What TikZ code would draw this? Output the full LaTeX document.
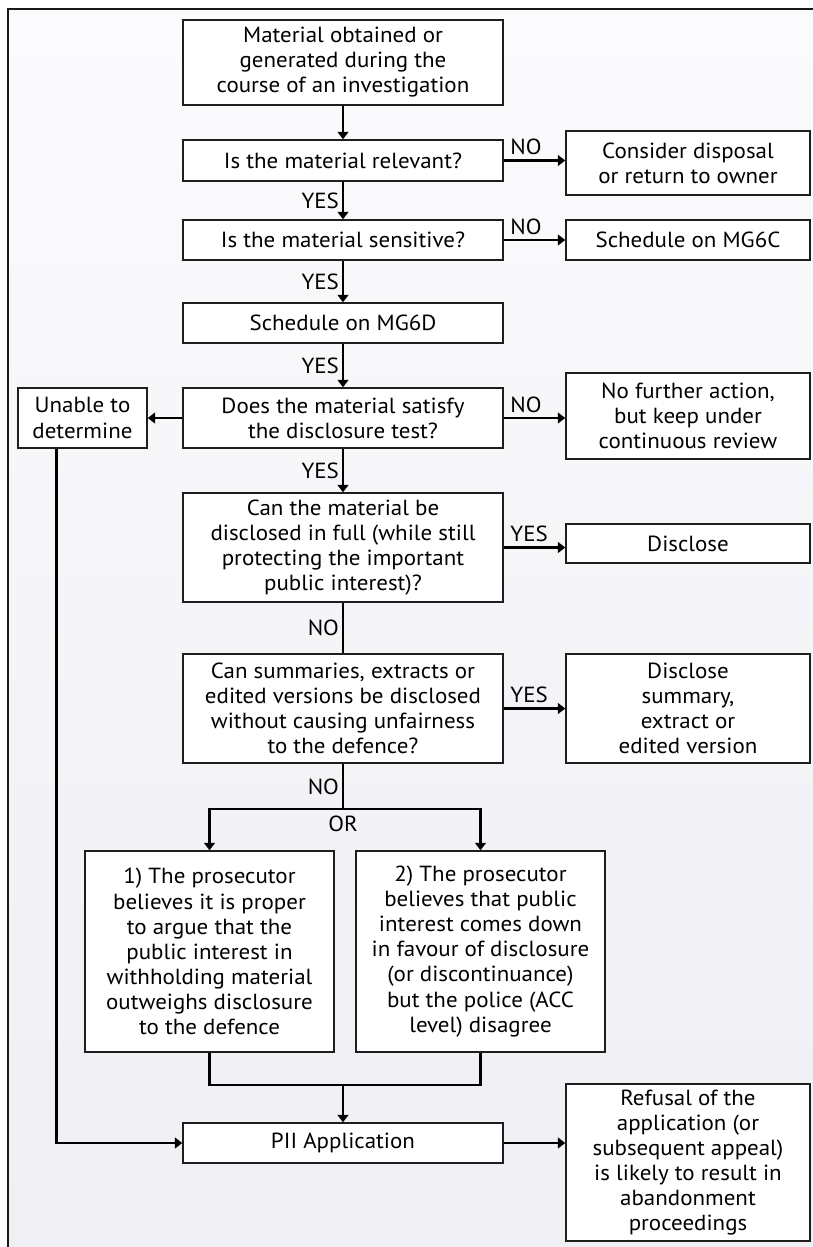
\documentclass[tikz,border=0pt]{standalone}
\usepackage{fontspec}
\setmainfont{PT Sans}[FakeStretch=1.05]
\usetikzlibrary{arrows.meta,calc}
\definecolor{bgtop}{HTML}{FBFBFD}
\definecolor{bgbot}{HTML}{EFEFF4}
\definecolor{edge}{HTML}{1E1E1E}
\tikzset{
  box/.style={draw=edge, line width=1.1pt, fill=white, align=center, inner sep=1pt,
    font=\fontsize{16.4}{18.8}\selectfont},
  mainbox/.style={box, minimum width=240pt},
  sidebox/.style={box, minimum width=183pt},
  conn/.style={line width=2.1pt, black},
  arr/.style={conn, -{Triangle[width=8pt,length=5.5pt]}},
  lbl/.style={font=\fontsize{16.4}{19}\selectfont, inner sep=2pt},
}
\begin{document}
\begin{tikzpicture}[x=0.75pt,y=-0.75pt]
\useasboundingbox (0,0) rectangle (813,1247);
\fill[white] (0,0) rectangle (813,1247);
\shade[top color=bgtop, bottom color=bgbot] (8,9) rectangle (813,1247);
\draw[line width=1.5pt, black!90] (8,1247) -- (8,9) -- (813,9);

\node[mainbox, minimum height=63.75pt] (b1) at (343,62.5) {Material obtained or\\generated during the\\course of an investigation};
\node[mainbox, minimum height=30.75pt] (b2) at (343,160.5) {Is the material relevant?};
\node[sidebox, minimum height=48pt] (c1) at (688,163) {Consider disposal\\or return to owner};
\node[mainbox, minimum height=30pt] (b3) at (343,240) {Is the material sensitive?};
\node[sidebox, minimum height=30pt] (c2) at (688,240) {Schedule on MG6C};
\node[mainbox, minimum height=30pt] (b4) at (343,323) {Schedule on MG6D};
\node[mainbox, minimum height=45pt] (b5) at (343,418) {Does the material satisfy\\the disclosure test?};
\node[box, minimum width=96.75pt, minimum height=45pt] (u) at (82.5,418) {Unable to\\determine};
\node[sidebox, minimum height=64.5pt] (c3) at (688,416) {No further action,\\but keep under\\continuous review};
\node[mainbox, minimum height=81.75pt] (b6) at (343,547.5) {Can the material be\\disclosed in full (while still\\protecting the important\\public interest)?};
\node[sidebox, minimum height=29.25pt] (c4) at (688,543.5) {Disclose};
\node[mainbox, minimum height=81.75pt] (b7) at (343,708.5) {Can summaries, extracts or\\edited versions be disclosed\\without causing unfairness\\to the defence?};
\node[sidebox, minimum height=81.75pt] (c5) at (688,708.5) {Disclose\\summary,\\extract or\\edited version};
\node[box, minimum width=186.75pt, minimum height=150.75pt] (b8) at (209.5,951.5) {1) The prosecutor\\believes it is proper\\to argue that the\\public interest in\\withholding material\\outweighs disclosure\\to the defence};
\node[box, minimum width=186.75pt, minimum height=150.75pt] (b9) at (480.5,951.5) {2) The prosecutor\\believes that public\\interest comes down\\in favour of disclosure\\(or discontinuance)\\but the police (ACC\\level) disagree};
\node[mainbox, minimum height=30pt] (pii) at (343,1143) {PII Application};
\node[sidebox, minimum height=117.75pt] (r) at (688,1162.5) {Refusal of the\\application (or\\subsequent appeal)\\is likely to result in\\abandonment\\proceedings};

\draw[arr] (b1) -- (b2);
\draw[arr] (b2.east) -- (b2.east -| c1.west) node[pos=0, anchor=south west, lbl, xshift=2pt, yshift=1pt]{NO};
\draw[arr] (b2) -- node[left, lbl]{YES} (b3);
\draw[arr] (b3.east) -- (b3.east -| c2.west) node[pos=0, anchor=south west, lbl, xshift=2pt, yshift=1pt]{NO};
\draw[arr] (b3) -- node[left, lbl]{YES} (b4);
\draw[arr] (b4) -- node[left, lbl]{YES} (b5);
\draw[arr] (b5.west) -- (u.east);
\draw[arr] (b5.east) -- (b5.east -| c3.west) node[pos=0, anchor=south west, lbl, xshift=2pt, yshift=1pt]{NO};
\draw[arr] (b5) -- node[left, lbl]{YES} (b6);
\draw[arr] (b6.east) -- (b6.east -| c4.west) node[pos=0, anchor=south west, lbl, xshift=2pt, yshift=1pt]{YES};
\draw[conn] (b6) -- node[left, lbl]{NO} (b7);
\draw[arr] (b7.east) -- (b7.east -| c5.west) node[pos=0, anchor=south west, lbl, xshift=2pt, yshift=1pt]{YES};
\coordinate (s) at (343,809);
\draw[conn] (b7) -- node[left, lbl]{NO} (s);
\draw[arr] (s) -| (b8.north);
\draw[arr] (s) -| (b9.north);
\node[lbl, below=3pt] (orl) at (s) {OR};
\coordinate (j) at (343,1085);
\draw[conn] (b8.south) |- (j);
\draw[conn] (b9.south) |- (j);
\draw[arr] (j) -- (pii);
\coordinate (ul) at ($(u.south west)+(39,0)$);
\draw[arr] (ul) |- (pii.west);
\draw[arr] (pii.east) -- (pii.east -| r.west);
\end{tikzpicture}
\end{document}
